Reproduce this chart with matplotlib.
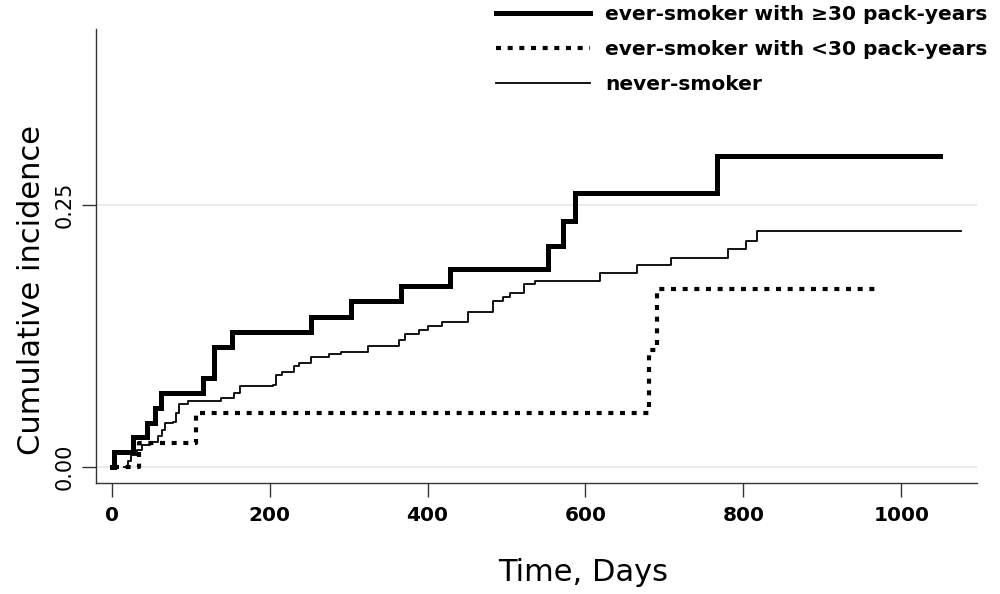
import matplotlib
matplotlib.use("Agg")
import matplotlib.pyplot as plt
from matplotlib.lines import Line2D

plt.rcParams['font.family'] = ['DejaVu Sans']

# ever-smoker with >=30 pack-years (step times in days, cumulative incidence)
heavy_days = [0, 3, 27, 45, 55, 62, 116, 130, 152, 252, 303, 367, 428, 552, 572, 587, 767, 1049]
heavy_vals = [0.0, 0.014, 0.028, 0.042, 0.056, 0.070, 0.085, 0.114, 0.129, 0.143, 0.158, 0.173,
              0.189, 0.211, 0.235, 0.262, 0.297, 0.297]

# ever-smoker with <30 pack-years
light_days = [3, 34, 107, 681, 691, 969]
light_vals = [0.0, 0.023, 0.051, 0.112, 0.170, 0.170]

# never-smoker
never_days = [15, 20, 25, 32, 38, 49, 59, 64, 68, 77, 81, 85, 96, 138, 155, 163, 204, 208, 216,
              231, 237, 252, 275, 290, 324, 364, 372, 389, 400, 418, 451, 483, 496, 505, 522,
              536, 619, 665, 709, 781, 803, 817, 1076]
never_vals = [0.0, 0.005, 0.011, 0.016, 0.021, 0.024, 0.029, 0.035, 0.042, 0.043, 0.051, 0.060,
              0.063, 0.066, 0.070, 0.077, 0.078, 0.088, 0.091, 0.096, 0.099, 0.105, 0.108, 0.110,
              0.115, 0.121, 0.127, 0.131, 0.135, 0.138, 0.148, 0.158, 0.162, 0.166, 0.175, 0.178,
              0.185, 0.193, 0.200, 0.208, 0.216, 0.225, 0.225]

labels = ["ever-smoker with \u226530 pack-years", "ever-smoker with <30 pack-years", "never-smoker"]
x_ticks = [0, 200, 400, 600, 800, 1000]
y_ticks = [0.0, 0.25]
y_ticklabels = ["0.00", "0.25"]

fig = plt.figure(figsize=(10, 5.94), dpi=100)
ax = fig.add_axes([0.0957, 0.1874, 0.8813, 0.7638])

ax.axhline(0.0, color='#e8e8e8', lw=1.3, zorder=0)
ax.axhline(0.25, color='#e8e8e8', lw=1.3, zorder=0)

dot_style = (0, (1.2, 1.6))
ax.step(heavy_days, heavy_vals, where='post', color='black', lw=3.6, solid_joinstyle='miter')
ax.step(light_days, light_vals, where='post', color='black', lw=3.0,
        linestyle=dot_style, dash_capstyle='butt')
ax.step(never_days, never_vals, where='post', color='black', lw=1.3)

ax.set_xlim(-20.3, 1096)
ax.set_ylim(-0.0153, 0.4186)
ax.set_xticks(x_ticks)
ax.set_xticklabels([str(t) for t in x_ticks], fontsize=14.5, fontweight='bold')
ax.set_yticks(y_ticks)
ax.set_yticklabels(y_ticklabels, fontsize=15, rotation=90, va='center')
ax.tick_params(axis='x', length=10, width=1, pad=7, color='#333333')
ax.tick_params(axis='y', length=10, width=1, pad=5, color='#333333')
for s in ['top', 'right']:
    ax.spines[s].set_visible(False)
for s in ['left', 'bottom']:
    ax.spines[s].set_linewidth(1.0)
    ax.spines[s].set_color('#333333')

ax.set_xlabel("Time, Days", fontsize=22)
ax.xaxis.set_label_coords(0.553, -0.167)
ax.set_ylabel("Cumulative incidence", fontsize=22)
ax.yaxis.set_label_coords(-0.056, 0.425)

handles = [Line2D([], [], color='black', lw=3.6),
           Line2D([], [], color='black', lw=3.0, linestyle=dot_style, dash_capstyle='butt'),
           Line2D([], [], color='black', lw=1.3)]
leg = fig.legend(handles, labels, loc='upper left', bbox_to_anchor=(0.496, 0.9916),
                 frameon=False, prop={'size': 14.5, 'weight': 'bold'}, borderpad=0.0,
                 borderaxespad=0.0, handlelength=4.68, handletextpad=0.75, labelspacing=0.8)

fig.savefig("out.png", dpi=100)
